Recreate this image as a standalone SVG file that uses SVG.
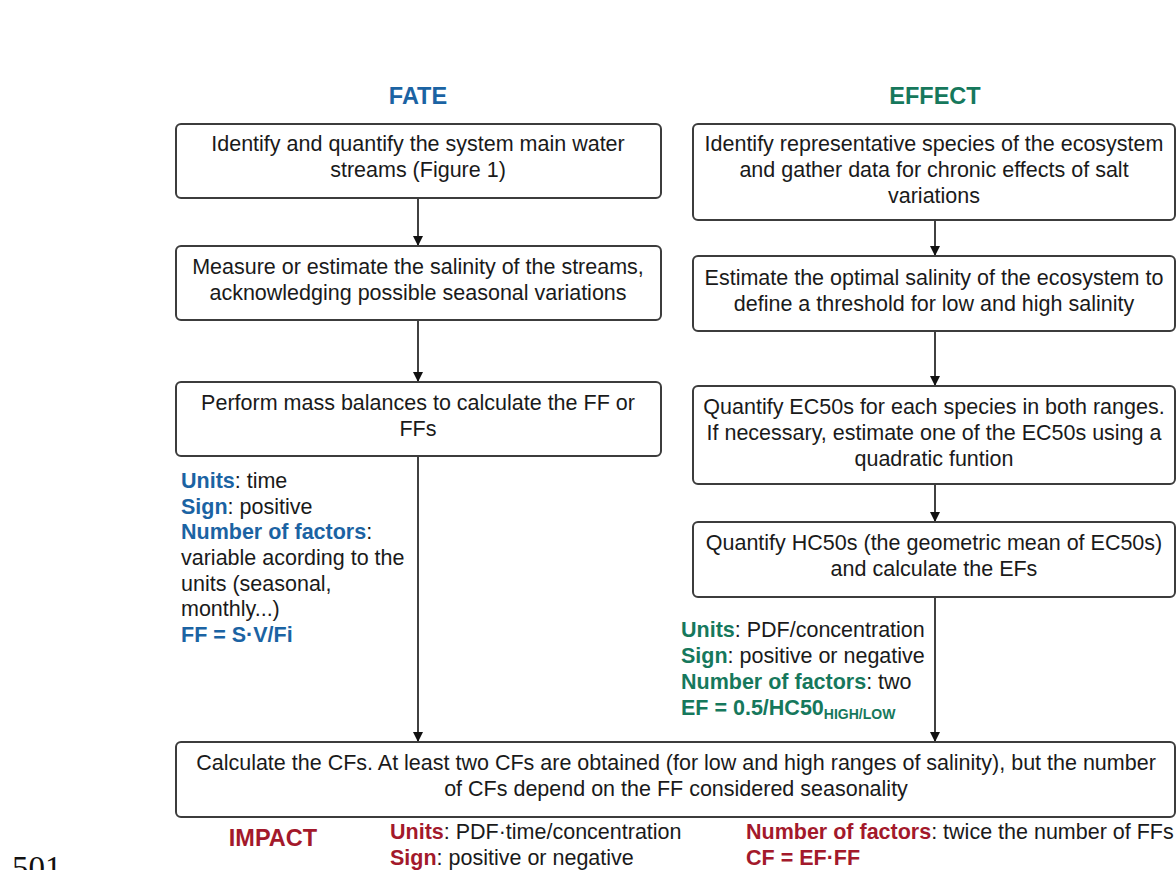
<svg xmlns="http://www.w3.org/2000/svg" width="1176" height="870" viewBox="0 0 1176 870">
<defs>
<marker id="ah" markerWidth="10" markerHeight="12" refX="9" refY="6" orient="auto" markerUnits="userSpaceOnUse">
<path d="M0,1 L10,6 L0,11 Z" fill="#111"/>
</marker>
<style>
.box{fill:#fff;stroke:#3c3c3c;stroke-width:2}
.t{font-family:"Liberation Sans",Arial,sans-serif;font-size:21.5px;fill:#1a1a1a}
.c{text-anchor:middle}
.h{font-family:"Liberation Sans",Arial,sans-serif;font-size:23.5px;font-weight:bold;text-anchor:middle}
.b{font-weight:bold}
.blue{fill:#1b63a3}
.green{fill:#16785c}
.red{fill:#a3192b}
.ln{stroke:#111;stroke-width:1.6;fill:none;marker-end:url(#ah)}
</style>
</defs>
<rect width="1176" height="870" fill="#fff"/>
<text class="h blue" x="418" y="104">FATE</text>
<text class="h green" x="935" y="104">EFFECT</text>

<g id="connectors">
<line class="ln" x1="418" y1="199" x2="418" y2="245"/>
<line class="ln" x1="418" y1="321" x2="418" y2="381"/>
<line class="ln" x1="418" y1="457" x2="418" y2="741"/>
<line class="ln" x1="935" y1="221" x2="935" y2="255"/>
<line class="ln" x1="935" y1="332" x2="935" y2="385"/>
<line class="ln" x1="935" y1="485" x2="935" y2="521"/>
<line class="ln" x1="935" y1="598" x2="935" y2="741"/>
</g>

<g id="fate1">
<rect class="box" x="176" y="124" width="485" height="74" rx="5"/>
<text class="t c" x="418" y="151">Identify and quantify the system main water</text>
<text class="t c" x="418" y="177">streams (Figure 1)</text>
</g>
<g id="fate2">
<rect class="box" x="176" y="246" width="485" height="74" rx="5"/>
<text class="t c" x="418" y="274">Measure or estimate the salinity of the streams,</text>
<text class="t c" x="418" y="300">acknowledging possible seasonal variations</text>
</g>
<g id="fate3">
<rect class="box" x="176" y="382" width="485" height="74" rx="5"/>
<text class="t c" x="418" y="410">Perform mass balances to calculate the FF or</text>
<text class="t c" x="418" y="436">FFs</text>
</g>
<g id="fate-notes">
<text class="t" x="181" y="488"><tspan class="b blue">Units</tspan>: time</text>
<text class="t" x="181" y="514"><tspan class="b blue">Sign</tspan>: positive</text>
<text class="t" x="181" y="539"><tspan class="b blue">Number of factors</tspan>:</text>
<text class="t" x="181" y="565">variable acording to the</text>
<text class="t" x="181" y="591">units (seasonal,</text>
<text class="t" x="181" y="616">monthly...)</text>
<text class="t b blue" x="181" y="642">FF = S·V/Fi</text>
</g>

<g id="effect1">
<rect class="box" x="693" y="124" width="482" height="96" rx="5"/>
<text class="t c" x="934" y="151">Identify representative species of the ecosystem</text>
<text class="t c" x="934" y="177">and gather data for chronic effects of salt</text>
<text class="t c" x="934" y="203">variations</text>
</g>
<g id="effect2">
<rect class="box" x="693" y="256" width="482" height="75" rx="5"/>
<text class="t c" x="934" y="285">Estimate the optimal salinity of the ecosystem to</text>
<text class="t c" x="934" y="311">define a threshold for low and high salinity</text>
</g>
<g id="effect3">
<rect class="box" x="693" y="386" width="482" height="98" rx="5"/>
<text class="t c" x="934" y="414">Quantify EC50s for each species in both ranges.</text>
<text class="t c" x="934" y="440">If necessary, estimate one of the EC50s using a</text>
<text class="t c" x="934" y="466">quadratic funtion</text>
</g>
<g id="effect4">
<rect class="box" x="693" y="522" width="482" height="75" rx="5"/>
<text class="t c" x="934" y="550">Quantify HC50s (the geometric mean of EC50s)</text>
<text class="t c" x="934" y="576">and calculate the EFs</text>
</g>
<g id="effect-notes">
<text class="t" x="681" y="637"><tspan class="b green">Units</tspan>: PDF/concentration</text>
<text class="t" x="681" y="663"><tspan class="b green">Sign</tspan>: positive or negative</text>
<text class="t" x="681" y="689"><tspan class="b green">Number of factors</tspan>: two</text>
<text class="t b green" x="681" y="715">EF = 0.5/HC50<tspan font-size="14" dy="4">HIGH/LOW</tspan></text>
</g>

<g id="impact">
<rect class="box" x="176" y="742" width="999" height="75" rx="5"/>
<text class="t c" x="676" y="770">Calculate the CFs. At least two CFs are obtained (for low and high ranges of salinity), but the number</text>
<text class="t c" x="676" y="796">of CFs depend on the FF considered seasonality</text>
</g>
<g id="impact-notes">
<text class="h red" x="273" y="846">IMPACT</text>
<text class="t" x="390" y="839"><tspan class="b red">Units</tspan>: PDF·time/concentration</text>
<text class="t" x="390" y="865"><tspan class="b red">Sign</tspan>: positive or negative</text>
<text class="t" x="746" y="839"><tspan class="b red">Number of factors</tspan>: twice the number of FFs</text>
<text class="t b red" x="746" y="865">CF = EF·FF</text>
</g>
<text x="12" y="879" font-family="Liberation Serif,Times New Roman,serif" font-size="33" fill="#111">501</text>
</svg>
